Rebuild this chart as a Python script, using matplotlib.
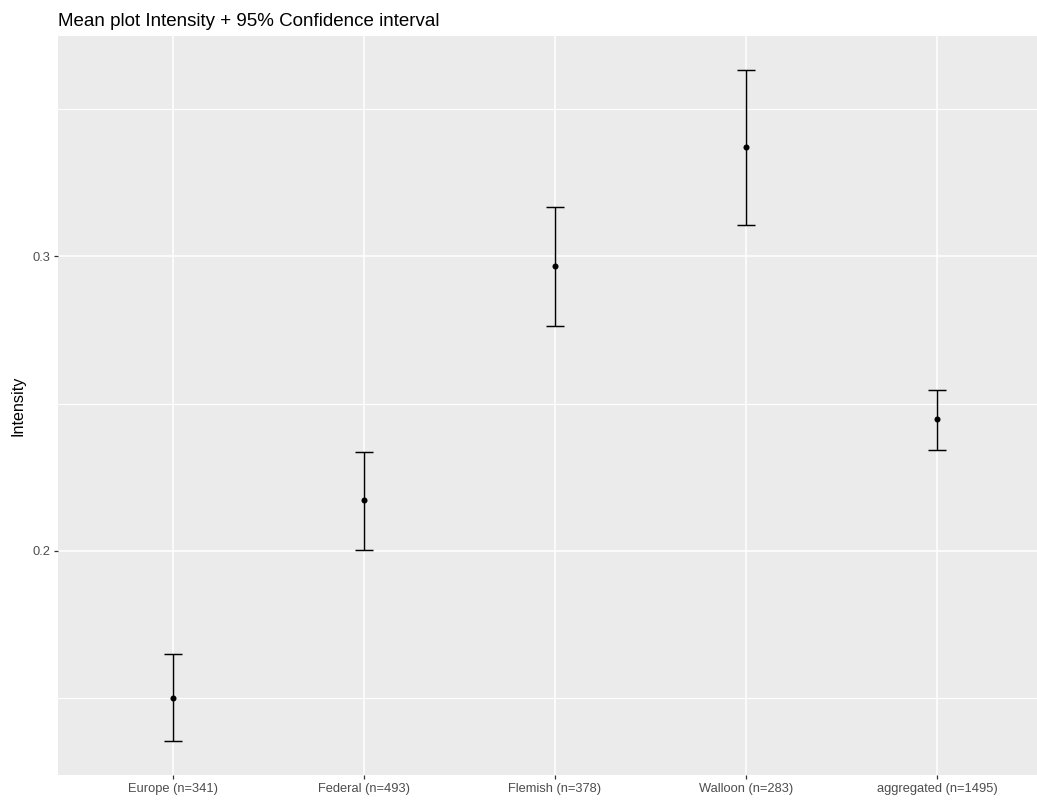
import matplotlib
matplotlib.use("Agg")
import matplotlib.pyplot as plt
import numpy as np

# Group labels and confidence-interval summaries
groups = ["Europe (n=341)", "Federal (n=493)", "Flemish (n=378)",
          "Walloon (n=283)", "aggregated (n=1495)"]
means = [0.1501, 0.2173, 0.2966, 0.3371, 0.2446]
lower = [0.1353, 0.2003, 0.2762, 0.3106, 0.2344]
upper = [0.1651, 0.2337, 0.3167, 0.3634, 0.2546]
y_major = [0.2, 0.3]
y_minor = [0.15, 0.25, 0.35]

plt.rcParams["font.family"] = ["Liberation Sans", "DejaVu Sans"]

W, H, DPI = 1037, 801, 100
fig = plt.figure(figsize=(W / DPI, H / DPI), dpi=DPI)
fig.patch.set_facecolor("white")

# panel box in pixels: left, top, right, bottom
pl, pt, pr, pb = 58, 36, 1052, 775
ax = fig.add_axes([pl / W, 1 - pb / H, (pr - pl) / W, (pb - pt) / H])
ax.set_facecolor("#EBEBEB")
for s in ax.spines.values():
    s.set_visible(False)

x = np.arange(1, len(groups) + 1)
ax.set_xlim(0.4, len(groups) + 0.6)
lo_all, hi_all = min(lower), max(upper)
pad = 0.05 * (hi_all - lo_all)
ax.set_ylim(lo_all - pad, hi_all + pad)

ax.set_xticks(x)
ax.set_xticklabels(groups)
ax.set_yticks(y_major)
ax.set_yticklabels([f"{v:.1f}" for v in y_major])
ax.set_yticks(y_minor, minor=True)

ax.grid(which="major", color="white", linewidth=1.1)
ax.grid(which="minor", axis="y", color="white", linewidth=0.8)
ax.set_axisbelow(True)
ax.tick_params(which="major", length=3.2, width=0.9, color="#333333",
               labelcolor="#4D4D4D", labelsize=9.3, pad=2.5)
ax.tick_params(which="minor", length=0)

yerr = np.array([np.array(means) - np.array(lower),
                 np.array(upper) - np.array(means)])
ax.errorbar(x, means, yerr=yerr, fmt="none", ecolor="black",
            elinewidth=1.05, capsize=6.8, capthick=1.05, zorder=3)
ax.scatter(x, means, s=19, color="black", zorder=4, linewidths=0)

ax.set_ylabel("Intensity", fontsize=11.6, color="black", labelpad=5)
fig.text(pl / W, 1 - 26 / H, "Mean plot Intensity + 95% Confidence interval",
         fontsize=13.5, color="black", ha="left", va="baseline")

fig.savefig("out.png", dpi=DPI)
